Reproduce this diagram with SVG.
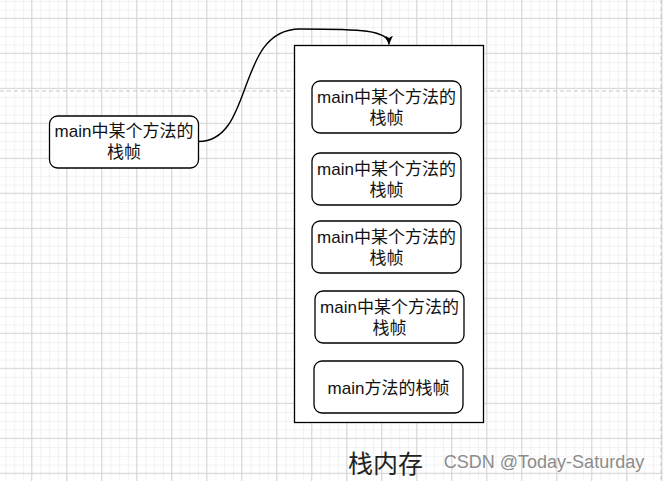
<svg xmlns="http://www.w3.org/2000/svg" width="663" height="481" viewBox="0 0 663 481">
<defs>
<pattern id="minor" x="31.7" y="18.3" width="8.75" height="8.75" patternUnits="userSpaceOnUse">
<path d="M0,0.5 H8.75 M0.5,0 V8.75" fill="none" stroke="#f1f1f1" stroke-width="1"/>
</pattern>
<pattern id="major" x="31.2" y="17.8" width="35" height="35" patternUnits="userSpaceOnUse">
<path d="M0,0.5 H35 M0.5,0 V35" fill="none" stroke="#d6d6d6" stroke-width="1"/>
</pattern>
<marker id="arrow" markerWidth="10" markerHeight="10" refX="9" refY="5" orient="auto" markerUnits="userSpaceOnUse">
<path d="M0,1 L9,5 L0,9 L2.5,5 Z" fill="#000"/>
</marker>
<style>
.box{fill:#fff;stroke:#000;stroke-width:1.3}
.t{font-family:"Liberation Sans","Noto Sans CJK SC",sans-serif;font-size:17px;fill:#111;text-anchor:middle;dominant-baseline:central}
</style>
</defs>
<rect width="663" height="481" fill="#fff"/>
<rect width="663" height="481" fill="url(#minor)"/>
<rect width="663" height="481" fill="url(#major)"/>
<line x1="0" y1="91" x2="663" y2="91" stroke="#c8c8c8" stroke-width="1" stroke-dasharray="4,3"/>
<line x1="661" y1="0" x2="661" y2="481" stroke="#c8c8c8" stroke-width="1" stroke-dasharray="4,3"/>

<g id="stack-memory">
<rect class="box" x="294.5" y="45.5" width="189" height="377"/>
</g>
<g id="left-frame">
<rect class="box" x="49.5" y="116" width="149" height="52" rx="8"/>
<text class="t" x="124" y="131.5">main中某个方法的</text>
<text class="t" x="124" y="152.5">栈帧</text>
</g>
<g id="frame1">
<rect class="box" x="312" y="81" width="149" height="52" rx="8"/>
<text class="t" x="386.5" y="97">main中某个方法的</text>
<text class="t" x="386.5" y="118">栈帧</text>
</g>
<g id="frame2">
<rect class="box" x="312" y="153" width="149" height="52" rx="8"/>
<text class="t" x="386.5" y="169">main中某个方法的</text>
<text class="t" x="386.5" y="190">栈帧</text>
</g>
<g id="frame3">
<rect class="box" x="312" y="221" width="149" height="52" rx="8"/>
<text class="t" x="386.5" y="237">main中某个方法的</text>
<text class="t" x="386.5" y="258">栈帧</text>
</g>
<g id="frame4">
<rect class="box" x="315" y="291" width="149" height="52" rx="8"/>
<text class="t" x="389.5" y="307">main中某个方法的</text>
<text class="t" x="389.5" y="328">栈帧</text>
</g>
<g id="frame5">
<rect class="box" x="314" y="361" width="149" height="52" rx="8"/>
<text class="t" x="388.5" y="388">main方法的栈帧</text>
</g>

<g id="connectors">
<path d="M198.5,141.5 C255,141.5 235,29 300,29 C360,29 389,30 389,44.5" fill="none" stroke="#000" stroke-width="1.4" marker-end="url(#arrow)"/>
</g>

<g id="label">
<text x="385.5" y="462" font-family="'Noto Sans CJK SC',sans-serif" font-size="25" fill="#222" text-anchor="middle" dominant-baseline="central">栈内存</text>
</g>
<text x="544" y="462" font-family="'Liberation Sans',sans-serif" font-size="18" fill="#8c8c8c" text-anchor="middle" dominant-baseline="central">CSDN @Today-Saturday</text>
</svg>
